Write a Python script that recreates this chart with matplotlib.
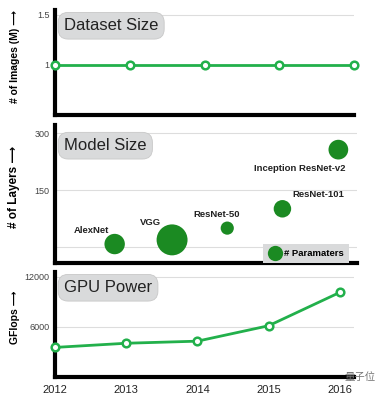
import numpy as np
import matplotlib
matplotlib.use('Agg')
import matplotlib.pyplot as plt
from matplotlib.lines import Line2D

plt.rcParams['font.family'] = ['Liberation Sans', 'DejaVu Sans']

# data
years = [2012, 2013, 2014, 2015, 2016]
dataset_size = [1, 1, 1, 1, 1]          # millions of images
gpu_gflops = [3550, 4050, 4300, 6150, 10150]

models = ["AlexNet", "VGG", "ResNet-50", "ResNet-101", "Inception ResNet-v2"]
model_x = [2012.8, 2013.57, 2014.31, 2015.05, 2015.8]
model_layers = [8, 19, 50, 101, 257]
model_params = [60, 138, 25, 44, 56]     # millions
label_offsets = [(-23, 14), (-22, 17), (-11, 14), (36, 14), (-39, -19)]

line_green = '#22b04b'
bubble_green = '#1b8a22'
grid_gray = '#dddddd'
box_gray = '#d9dadb'

fig = plt.figure(figsize=(3.84, 4.0), dpi=100)
W, H = 384, 400

def make_ax(top, bottom, left=55, right=354):
    ax = fig.add_axes([left / W, 1 - bottom / H, (right - left) / W, (bottom - top) / H])
    for s in ['top', 'right']:
        ax.spines[s].set_visible(False)
    for s in ['left', 'bottom']:
        ax.spines[s].set_linewidth(3.0)
        ax.spines[s].set_color('black')
    ax.tick_params(length=0, labelsize=6.5, labelcolor='#444444', pad=4)
    ax.set_axisbelow(True)
    return ax

def title_box(ax, text):
    ax.text(0.03, 0.85, text, transform=ax.transAxes, fontsize=12, color='#222222',
            va='center', ha='left', zorder=5,
            bbox=dict(boxstyle='round,pad=0.35,rounding_size=0.6', fc=box_gray, ec='#c8c8c8', lw=0.6))

arrow = ' \u27f6'
label_font = ['Liberation Sans', 'DejaVu Sans']

# ---------------- Dataset size ----------------
ax1 = make_ax(10, 115)
ax1.plot(years, dataset_size, color=line_green, lw=2, marker='o', ms=5.5,
         mfc='white', mec=line_green, mew=1.8, clip_on=False, zorder=3)
ax1.set_xlim(2012, 2016)
ax1.set_ylim(0.5, 1.55)
ax1.set_yticks([1, 1.5])
ax1.set_yticklabels(['1', '1.5'])
ax1.set_xticks([])
ax1.grid(axis='y', color=grid_gray, lw=0.8)
ax1.set_ylabel('# of Images (M)' + arrow, fontsize=7.5, fontweight='bold', family=label_font)
ax1.yaxis.set_label_coords(-0.117, 0.56)
title_box(ax1, 'Dataset Size')

# ---------------- Model size ----------------
ax2 = make_ax(125, 263, right=357)
ax2.set_xlim(2012, 2016.05)
ax2.set_ylim(-42, 322)
ax2.set_yticks([0, 150, 300])
ax2.set_yticklabels(['', '150', '300'])
ax2.set_xticks([])
ax2.grid(axis='y', color=grid_gray, lw=0.8)
ax2.scatter(model_x, model_layers, s=np.array(model_params) * 3.6, color=bubble_green,
            edgecolors='none', zorder=3)
for name, x, y, off in zip(models, model_x, model_layers, label_offsets):
    ax2.annotate(name, (x, y), xytext=off, textcoords='offset pixels', ha='center', va='center',
                 fontsize=6.8, fontweight='bold', color='#222222', zorder=4)
ax2.set_ylabel('# of Layers' + arrow, fontsize=8.5, fontweight='bold', family=label_font)
ax2.yaxis.set_label_coords(-0.117, 0.55)
title_box(ax2, 'Model Size')
handle = Line2D([], [], ls='none', marker='o', ms=11, mfc=bubble_green, mec='none')
leg = ax2.legend([handle], ['# Paramaters'], loc='lower right', bbox_to_anchor=(0.98, -0.015),
                 prop=dict(size=6.8, weight='bold'), frameon=True, fancybox=False,
                 borderpad=0.55, handletextpad=0.25, handlelength=1.4, borderaxespad=0.2)
leg.get_frame().set_facecolor(box_gray)
leg.get_frame().set_edgecolor('none')
leg.get_frame().set_alpha(1)

# ---------------- GPU power ----------------
ax3 = make_ax(272, 377)
ax3.plot(years, gpu_gflops, color=line_green, lw=2, marker='o', ms=5.5,
         mfc='white', mec=line_green, mew=1.8, clip_on=False, zorder=3)
ax3.set_xlim(2012, 2016.2)
ax3.set_ylim(0, 12600)
ax3.set_yticks([6000, 12000])
ax3.set_xticks(years)
ax3.tick_params(axis='x', labelsize=8, labelcolor='#222222', pad=6)
ax3.grid(axis='y', color=grid_gray, lw=0.8)
ax3.set_ylabel('GFlops' + arrow, fontsize=7.5, fontweight='bold', family=label_font)
ax3.yaxis.set_label_coords(-0.117, 0.57)
title_box(ax3, 'GPU Power')

# watermark
fig.text(360 / W, 1 - 377 / H, '量子位', family=['Noto Sans CJK SC', 'DejaVu Sans'],
         fontsize=7.5, color='#777777', ha='center', va='center')

fig.savefig('out.png', dpi=100)
